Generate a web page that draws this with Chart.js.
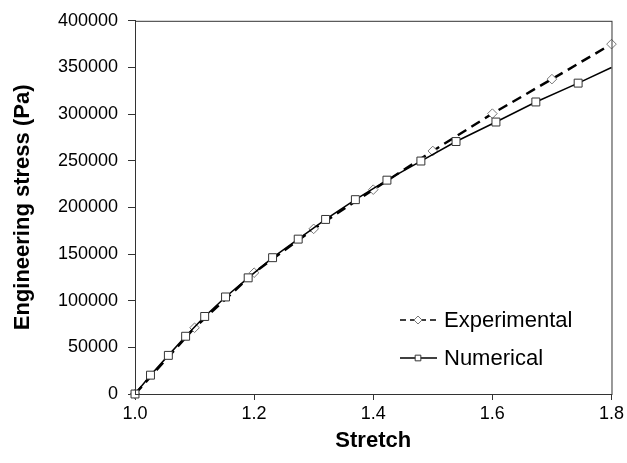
<!DOCTYPE html>
<html>
<head>
<meta charset="utf-8">
<script src="https://cdn.jsdelivr.net/npm/chart.js@4.4.0/dist/chart.umd.min.js"></script>
<style>
  html, body { margin: 0; padding: 0; background: #fff; }
  #wrap { width: 627px; height: 463px; }
</style>
</head>
<body>
<div id="wrap"><canvas id="myChart"></canvas></div>
<script>
// Stretch / stress data (Pa)
const expStretch = [1.0, 1.1, 1.2, 1.3, 1.4, 1.5, 1.6, 1.7, 1.8];
const expStress = [0, 71000, 130000, 177000, 219000, 260500, 300500, 337500, 375000];

const numStretch = [1.0, 1.026, 1.056, 1.085, 1.117, 1.152, 1.190, 1.231, 1.274, 1.320,
                    1.370, 1.423, 1.480, 1.539, 1.606, 1.673, 1.744, 1.8];
const numStress = [0, 20200, 41400, 61900, 83100, 104000, 124500, 146100, 166000, 187100,
                   208300, 229200, 249700, 270600, 291500, 313000, 333200, 350000];

const xTicks = [1.0, 1.2, 1.4, 1.6, 1.8];
const yTicks = [0, 50000, 100000, 150000, 200000, 250000, 300000, 350000, 400000];

const FONT = '"Liberation Sans", Arial, sans-serif';

const toPoints = (xs, ys) => xs.map((x, i) => ({ x: x, y: ys[i] }));

// frame around the plot area + legend drawn inside it
const framePlugin = {
    id: 'frame',
    afterDraw(chart) {
        const { ctx, chartArea: a } = chart;
        ctx.save();
        ctx.strokeStyle = '#333';
        ctx.lineWidth = 1;
        ctx.strokeRect(a.left + 0.5, a.top + 0.5, a.right - a.left, a.bottom - a.top);

        const rows = [320, 358];
        chart.data.datasets.forEach((ds, i) => {
            const y = rows[i];
            ctx.save();
            ctx.strokeStyle = '#000';
            ctx.lineWidth = 1.5;
            ctx.setLineDash(ds.borderDash ? [6, 4] : []);
            ctx.beginPath();
            ctx.moveTo(400, y);
            ctx.lineTo(437, y);
            ctx.stroke();
            ctx.restore();
            ctx.fillStyle = '#fff';
            ctx.strokeStyle = ds.pointBorderColor;
            ctx.lineWidth = 1;
            Chart.helpers.drawPoint(ctx, {
                pointStyle: ds.pointStyle,
                radius: 4,
                borderWidth: 1
            }, 418, y);
            ctx.fillStyle = '#000';
            ctx.font = '22px ' + FONT;
            ctx.textBaseline = 'middle';
            ctx.textAlign = 'left';
            ctx.fillText(ds.label, 444, y + 1);
        });
        ctx.restore();
    }
};

const ctx = document.getElementById('myChart').getContext('2d');
const chart = new Chart(ctx, {
    type: 'scatter',
    data: {
        datasets: [{
            label: 'Experimental',
            data: toPoints(expStretch, expStress),
            showLine: true,
            clip: false,
            borderColor: '#000',
            borderWidth: 2.5,
            borderDash: [10, 6],
            pointStyle: 'rectRot',
            pointRadius: 4.8,
            pointBackgroundColor: '#fff',
            pointBorderColor: '#777',
            pointBorderWidth: 1,
            order: 1
        }, {
            label: 'Numerical',
            data: toPoints(numStretch, numStress),
            showLine: true,
            clip: false,
            borderColor: '#000',
            borderWidth: 1.5,
            pointStyle: 'rect',
            pointRadius: numStretch.map((x, i) => i === numStretch.length - 1 ? 0 : 5.6),
            pointBackgroundColor: '#fff',
            pointBorderColor: '#333',
            pointBorderWidth: 1,
            order: 0
        }]
    },
    options: {
        responsive: true,
        maintainAspectRatio: false,
        animation: false,
        layout: { padding: { left: 0, right: 15, top: 17, bottom: 0 } },
        plugins: {
            legend: { display: false },
            tooltip: { enabled: false }
        },
        scales: {
            x: {
                type: 'linear',
                min: 1.0,
                max: 1.8,
                afterFit: s => { s.height = 69; },
                afterBuildTicks: s => { s.ticks = xTicks.map(v => ({ value: v })); },
                grid: { drawOnChartArea: false, drawTicks: true, tickLength: 6, color: '#333' },
                border: { display: true, color: '#333' },
                ticks: {
                    padding: 3,
                    color: '#000',
                    font: { family: FONT, size: 18 },
                    callback: v => v.toFixed(1)
                },
                title: {
                    display: true,
                    text: 'Stretch',
                    color: '#000',
                    font: { family: FONT, size: 22, weight: 'bold' },
                    padding: { top: 0, bottom: 9 }
                }
            },
            y: {
                min: 0,
                max: 400000,
                afterFit: s => { s.width = 135; },
                afterBuildTicks: s => { s.ticks = yTicks.map(v => ({ value: v })); },
                grid: { drawOnChartArea: false, drawTicks: true, tickLength: 7, color: '#333' },
                border: { display: true, color: '#333' },
                ticks: {
                    padding: 10,
                    color: '#000',
                    font: { family: FONT, size: 18 },
                    callback: v => String(v)
                },
                title: {
                    display: true,
                    text: 'Engineering stress (Pa)',
                    color: '#000',
                    font: { family: FONT, size: 22, weight: 'bold' },
                    padding: { top: 10, bottom: 0 }
                }
            }
        }
    },
    plugins: [framePlugin]
});
</script>
</body>
</html>
